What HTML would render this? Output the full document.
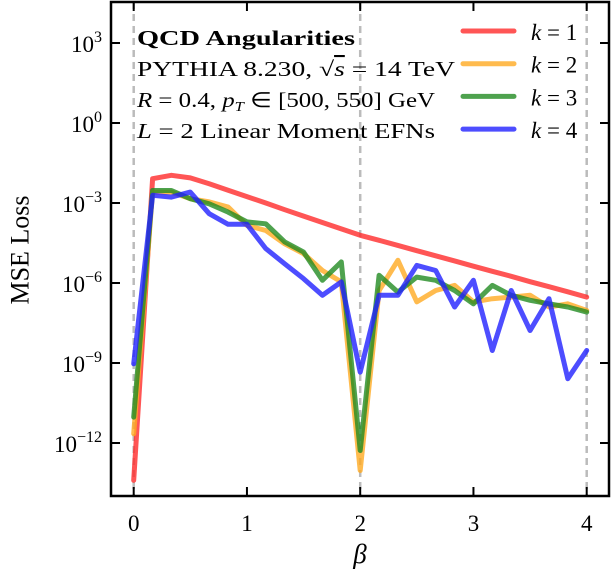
<!DOCTYPE html>
<html><head><meta charset="utf-8"><style>
body{margin:0;background:#fff}
svg text{font-family:"Liberation Serif",serif;fill:#000}
</style></head><body>
<svg width="612" height="572" viewBox="0 0 612 572">
<g id="grid"></g>
<g id="series"></g>
<g id="axes"></g>
<g font-size="21">
<text x="137" y="45" font-weight="bold" textLength="218" lengthAdjust="spacingAndGlyphs">QCD Angularities</text>
<text x="137" y="76" textLength="318" lengthAdjust="spacingAndGlyphs">PYTHIA 8.230, <tspan>√</tspan><tspan font-style="italic" text-decoration="overline">s</tspan> = 14 TeV</text>
<text x="137" y="107" textLength="298" lengthAdjust="spacingAndGlyphs"><tspan font-style="italic">R</tspan> = 0.4, <tspan font-style="italic">p</tspan><tspan font-style="italic" font-size="14" dy="4">T</tspan><tspan dy="-4"> ∈ [500, 550] GeV</tspan></text>
<text x="137" y="138" textLength="298" lengthAdjust="spacingAndGlyphs"><tspan font-style="italic">L</tspan> = 2 Linear Moment EFNs</text>
</g>
<g id="legend" font-size="23"></g>
<text x="20" y="250" font-size="26" transform="rotate(-90 20 250)" text-anchor="middle" dominant-baseline="central">MSE Loss</text>
<text x="360" y="563" font-size="27" font-style="italic" text-anchor="middle">β</text>
</svg>
<script>
const betas = [];
for (let i = 0; i <= 24; i++) betas.push(i / 6);
const seriesNames = ["k = 1", "k = 2", "k = 3", "k = 4"];
const seriesColors = ["#ff2a2a", "#ffaa22", "#228b22", "#2020ff"];
const logK1 = [-13.4,-2.09,-1.96,-2.06,-2.28,-2.52,-2.76,-3.0,-3.25,-3.49,-3.73,-3.97,-4.21,-4.40,-4.59,-4.79,-4.98,-5.17,-5.37,-5.56,-5.75,-5.95,-6.14,-6.33,-6.53];
const logK2 = [-11.65,-2.59,-2.59,-2.84,-2.96,-3.15,-3.84,-4.03,-4.53,-4.9,-5.53,-5.96,-13.03,-6.28,-5.15,-6.71,-6.28,-6.09,-6.71,-6.59,-6.53,-6.46,-6.9,-6.78,-7.03];
const logK3 = [-11.03,-2.53,-2.53,-2.84,-3.03,-3.34,-3.71,-3.78,-4.46,-4.84,-5.9,-5.21,-12.28,-5.71,-6.34,-5.78,-5.9,-6.28,-6.78,-6.09,-6.46,-6.65,-6.78,-6.9,-7.09];
const logK4 = [-9.03,-2.71,-2.78,-2.59,-3.4,-3.8,-3.8,-4.71,-5.28,-5.84,-6.46,-5.96,-9.34,-6.46,-6.46,-5.34,-5.53,-6.9,-5.9,-8.53,-6.28,-7.78,-6.59,-9.59,-8.53];
const xTicks = [0, 1, 2, 3, 4];
const yTickExps = [3, 0, -3, -6, -9, -12];
const dashedBetas = [0, 2, 4];

const NS = "http://www.w3.org/2000/svg";
const L = 111, R = 609, T = 2, B = 496;
const xS = v => 133.7 + v * 113.25;
const yS = e => 123 - e * 26.667;
function mk(tag, attrs, parent) {
  const el = document.createElementNS(NS, tag);
  for (const k in attrs) el.setAttribute(k, attrs[k]);
  parent.appendChild(el);
  return el;
}
const grid = document.getElementById("grid"), ser = document.getElementById("series"),
  axes = document.getElementById("axes"), leg = document.getElementById("legend");
dashedBetas.forEach(b => {
  const l = mk("line", {x1: xS(b), x2: xS(b), y1: T, y2: B, stroke: "#bbb", "stroke-width": 2.5, "stroke-dasharray": "7,5"}, grid);
  
  
});
const all = [logK1, logK2, logK3, logK4];
all.forEach((vals, si) => {
  const d = vals.map((e, i) => (i ? "L" : "M") + xS(betas[i]).toFixed(1) + "," + yS(e).toFixed(1)).join(" ");
  const p = mk("path", {d, fill: "none", stroke: seriesColors[si], "stroke-width": 5, "stroke-opacity": 0.8, "stroke-linejoin": "round", "stroke-linecap": "round"}, ser);
  
  
  const ly = 31 + si * 32.7;
  const ll = mk("line", {x1: 463, x2: 514, y1: ly, y2: ly, stroke: seriesColors[si], "stroke-width": 5, "stroke-opacity": 0.8, "stroke-linecap": "round"}, leg);
  
  
  const t = mk("text", {x: 531, y: ly + 9}, leg);
  t.innerHTML = '<tspan font-style="italic">k</tspan> = ' + (si + 1);
  
  
});
const frame = mk("rect", {x: L, y: T, width: R - L, height: B - T, fill: "none", stroke: "#000", "stroke-width": 2.5}, axes);


xTicks.forEach(v => {
  mk("line", {x1: xS(v), x2: xS(v), y1: B, y2: B - 9, stroke: "#000", "stroke-width": 2}, axes);
  mk("line", {x1: xS(v), x2: xS(v), y1: T, y2: T + 9, stroke: "#000", "stroke-width": 2}, axes);
  const t = mk("text", {x: xS(v), y: 531, "font-size": 23, "text-anchor": "middle"}, axes);
  t.textContent = v;
  
  
});
yTickExps.forEach(e => {
  mk("line", {x1: L, x2: L + 9, y1: yS(e), y2: yS(e), stroke: "#000", "stroke-width": 2}, axes);
  mk("line", {x1: R, x2: R - 9, y1: yS(e), y2: yS(e), stroke: "#000", "stroke-width": 2}, axes);
  const t = mk("text", {x: 102, y: yS(e) + 9, "font-size": 23, "text-anchor": "end"}, axes);
  t.innerHTML = '10<tspan font-size="16" dy="-10">' + (e < 0 ? "−" + (-e) : e) + '</tspan>';
  
  
});
</script>
</body></html>
